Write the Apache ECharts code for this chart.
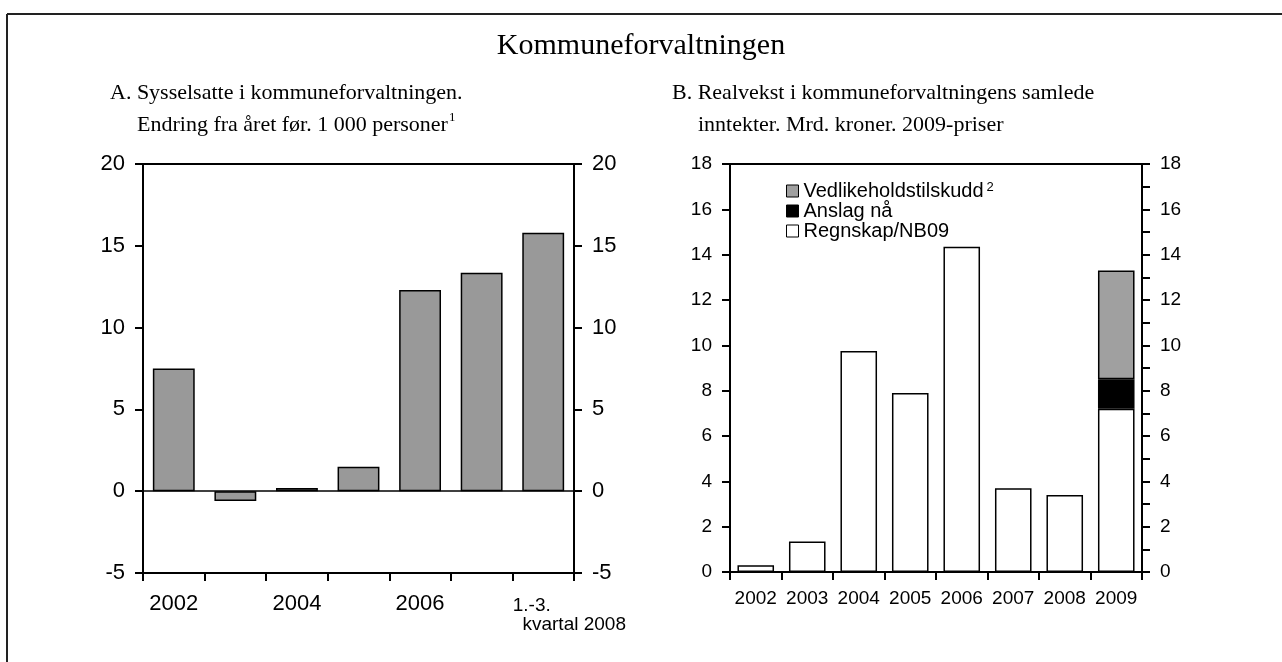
<!DOCTYPE html>
<html>
<head>
<meta charset="utf-8">
<title>Kommuneforvaltningen</title>
<script src="https://cdn.jsdelivr.net/npm/echarts@6/dist/echarts.min.js"></script>
<style>
  html, body { margin: 0; padding: 0; background: #fff; }
  #main { width: 1282px; height: 662px; }
</style>
</head>
<body>
<div id="main"></div>
<script type="text/javascript">
// Figur A: sysselsatte, endring fra året før (1 000 personer)
var yearsA = ['2002', '2003', '2004', '2005', '2006', '2007', '1.-3. kvartal 2008'];
var sysselsatte = [7.5, -0.6, 0.2, 1.5, 12.3, 13.35, 15.8];

// Figur B: realvekst i samlede inntekter (mrd. kroner, 2009-priser)
var yearsB = ['2002', '2003', '2004', '2005', '2006', '2007', '2008', '2009'];
var regnskap = [0.3, 1.35, 9.75, 7.9, 14.35, 3.7, 3.4, 7.2];
var anslag = ['-', '-', '-', '-', '-', '-', '-', 1.3];
var vedlikehold = ['-', '-', '-', '-', '-', '-', '-', 4.8];

var ticksA = [-5, 20, 5];   // min, max, interval
var ticksB = [0, 18, 2];

var sans = 'Liberation Sans';
var serif = 'Liberation Serif';

var chart = echarts.init(document.getElementById('main'));

var option = {
  backgroundColor: '#fff',
  animation: false,
  title: [
    {
      text: 'Kommuneforvaltningen',
      left: 'center', top: 26,
      textStyle: { fontFamily: serif, fontSize: 30, fontWeight: 'normal', color: '#000' }
    },
    {
      text: 'A. Sysselsatte i kommuneforvaltningen.\n{i|Endring fra året før. 1 000 personer}{s|1}',
      left: 110, top: 77, padding: 0,
      textStyle: {
        fontFamily: serif, fontSize: 22, fontWeight: 'normal', color: '#000', lineHeight: 32,
        rich: {
          i: { fontFamily: serif, fontSize: 22, lineHeight: 32, padding: [0, 0, 0, 27] },
          s: { fontFamily: serif, fontSize: 13, lineHeight: 32, verticalAlign: 'top', padding: [2, 0, 0, 1] }
        }
      }
    },
    {
      text: 'B. Realvekst i kommuneforvaltningens samlede\n{i|inntekter. Mrd. kroner. 2009-priser}',
      left: 672, top: 77, padding: 0,
      textStyle: {
        fontFamily: serif, fontSize: 22, fontWeight: 'normal', color: '#000', lineHeight: 32,
        rich: {
          i: { fontFamily: serif, fontSize: 22, lineHeight: 32, padding: [0, 0, 0, 26] }
        }
      }
    }
  ],
  legend: {
    orient: 'vertical',
    left: 786, top: 181,
    icon: 'rect',
    itemWidth: 12, itemHeight: 12, itemGap: 0,
    padding: 0,
    data: ['Vedlikeholdstilskudd', 'Anslag nå', 'Regnskap/NB09'],
    itemStyle: { borderColor: '#000', borderWidth: 1 },
    textStyle: {
      fontFamily: sans, fontSize: 20, color: '#000', lineHeight: 20,
      rich: {
        n: { fontFamily: sans, fontSize: 20, lineHeight: 20 },
        s: { fontFamily: sans, fontSize: 13, lineHeight: 20, verticalAlign: 'top', padding: [0, 0, 0, 3] }
      }
    },
    formatter: function (name) {
      if (name === 'Vedlikeholdstilskudd') return '{n|' + name + '}{s|2}';
      return name;
    }
  },
  grid: [
    { left: 143, top: 164, width: 431, height: 409, show: true, borderColor: '#000', borderWidth: 2 },
    { left: 730, top: 164, width: 412, height: 408, show: true, borderColor: '#000', borderWidth: 2 }
  ],
  xAxis: [
    {
      type: 'category', gridIndex: 0, data: yearsA,
      axisLine: { onZero: false, lineStyle: { color: '#000', width: 2 } },
      axisTick: { show: true, interval: 0, length: 8, lineStyle: { color: '#000', width: 2 } },
      axisLabel: {
        interval: 1, margin: 20, color: '#000', fontFamily: sans, fontSize: 22,
        formatter: function (v) {
          if (v.indexOf('kvartal') >= 0) return '{q|1.-3.}\n{k|kvartal 2008}';
          return v;
        },
        rich: {
          q: { fontFamily: sans, fontSize: 19, lineHeight: 21, padding: [4, 23, 0, 0] },
          k: { fontFamily: sans, fontSize: 19, lineHeight: 21, padding: [0, 0, 0, 62] }
        }
      }
    },
    {
      type: 'category', gridIndex: 1, data: yearsB,
      axisLine: { lineStyle: { color: '#000', width: 2 } },
      axisTick: { show: true, interval: 0, length: 8, lineStyle: { color: '#000', width: 2 } },
      axisLabel: { interval: 0, margin: 17, color: '#000', fontFamily: sans, fontSize: 19 }
    }
  ],
  yAxis: [
    {
      type: 'value', gridIndex: 0, position: 'left',
      min: ticksA[0], max: ticksA[1], interval: ticksA[2],
      splitLine: { show: false },
      axisLine: { show: true, lineStyle: { color: '#000', width: 2 } },
      axisTick: { show: true, length: 8, lineStyle: { color: '#000', width: 2 } },
      axisLabel: { margin: 18, color: '#000', fontFamily: sans, fontSize: 22 }
    },
    {
      type: 'value', gridIndex: 0, position: 'right',
      min: ticksA[0], max: ticksA[1], interval: ticksA[2],
      splitLine: { show: false },
      axisLine: { show: true, lineStyle: { color: '#000', width: 2 } },
      axisTick: { show: true, length: 8, lineStyle: { color: '#000', width: 2 } },
      axisLabel: { margin: 18, color: '#000', fontFamily: sans, fontSize: 22 }
    },
    {
      type: 'value', gridIndex: 1, position: 'left',
      min: ticksB[0], max: ticksB[1], interval: ticksB[2],
      splitLine: { show: false },
      axisLine: { show: true, lineStyle: { color: '#000', width: 2 } },
      axisTick: { show: true, length: 8, lineStyle: { color: '#000', width: 2 } },
      axisLabel: { margin: 18, color: '#000', fontFamily: sans, fontSize: 19 }
    },
    {
      // høyre akse: tick for hver enhet, tall bare på partall
      type: 'value', gridIndex: 1, position: 'right',
      min: ticksB[0], max: ticksB[1], interval: 1,
      splitLine: { show: false },
      axisLine: { show: true, lineStyle: { color: '#000', width: 2 } },
      axisTick: { show: true, length: 8, lineStyle: { color: '#000', width: 2 } },
      axisLabel: {
        margin: 18, color: '#000', fontFamily: sans, fontSize: 19,
        formatter: function (v) { return v % 2 === 0 ? String(v) : ''; }
      }
    }
  ],
  series: [
    {
      name: 'Sysselsatte', type: 'bar', xAxisIndex: 0, yAxisIndex: 0,
      data: sysselsatte, barWidth: '68%',
      itemStyle: { color: '#999999', borderColor: '#000', borderWidth: 1.5 },
      markLine: {
        silent: true, symbol: 'none', label: { show: false },
        lineStyle: { color: '#000', width: 1.5, type: 'solid' },
        data: [{ yAxis: 0 }]
      }
    },
    {
      name: 'Regnskap/NB09', type: 'bar', xAxisIndex: 1, yAxisIndex: 2, stack: 'b',
      data: regnskap, barWidth: '71%',
      itemStyle: { color: '#ffffff', borderColor: '#000', borderWidth: 1.5 }
    },
    {
      name: 'Anslag nå', type: 'bar', xAxisIndex: 1, yAxisIndex: 2, stack: 'b',
      data: anslag, barWidth: '71%',
      itemStyle: { color: '#000000', borderColor: '#000', borderWidth: 1.5 }
    },
    {
      name: 'Vedlikeholdstilskudd', type: 'bar', xAxisIndex: 1, yAxisIndex: 2, stack: 'b',
      data: vedlikehold, barWidth: '71%',
      itemStyle: { color: '#a0a0a0', borderColor: '#000', borderWidth: 1.5 }
    }
  ],
  // ramme rundt figuren (topp og venstre)
  graphic: [
    { type: 'line', silent: true, shape: { x1: 7, y1: 14, x2: 1282, y2: 14 }, style: { stroke: '#222', lineWidth: 2 } },
    { type: 'line', silent: true, shape: { x1: 7, y1: 14, x2: 7, y2: 662 }, style: { stroke: '#222', lineWidth: 2 } }
  ]
};

chart.setOption(option);
</script>
</body>
</html>
